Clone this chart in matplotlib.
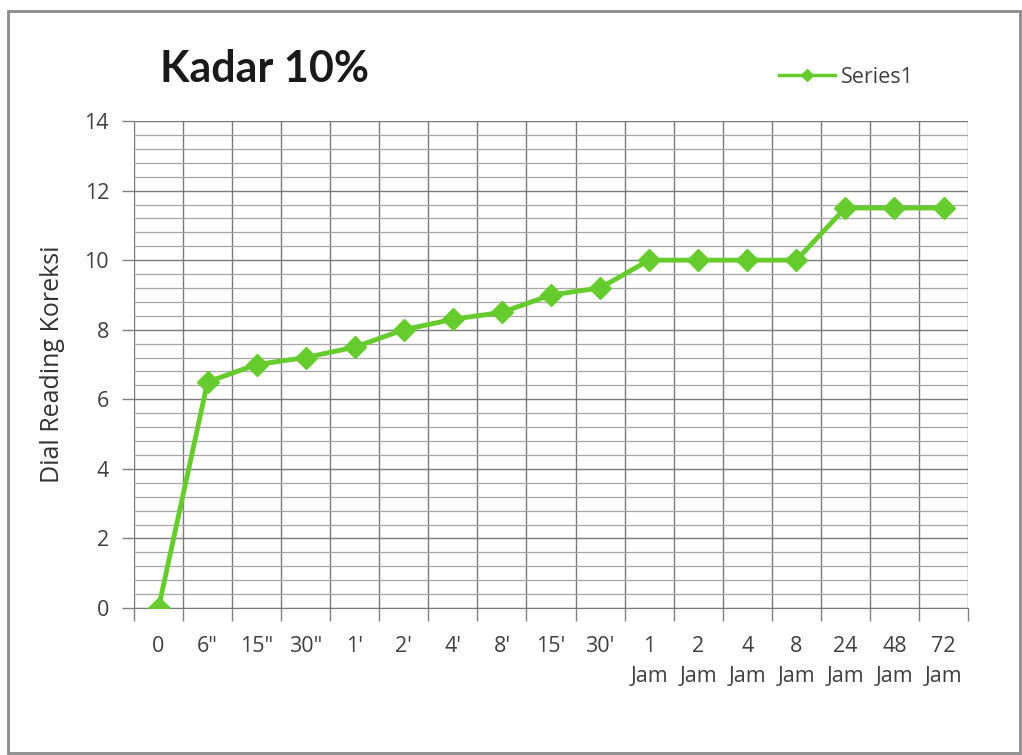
import numpy as np
import matplotlib.pyplot as plt
from matplotlib.patches import Rectangle

plt.rcParams['font.family'] = ['Open Sans', 'DejaVu Sans']

# waktu pembacaan dan dial reading terkoreksi
waktu = ['0', '6"', "15\"", '30"', "1'", "2'", "4'", "8'", "15'", "30'",
         '1\nJam', '2\nJam', '4\nJam', '8\nJam', '24\nJam', '48\nJam', '72\nJam']
dial = [0, 6.5, 7.0, 7.2, 7.5, 8.0, 8.3, 8.5, 9.0, 9.2,
        10.0, 10.0, 10.0, 10.0, 11.5, 11.5, 11.5]

hijau = '#66cc2e'
abu = '#404040'

fig = plt.figure(figsize=(10.22, 7.55), dpi=100)
fig.patch.set_facecolor('white')

# bingkai chart
fig.patches.append(Rectangle((0.008, 0.003), 0.99, 0.983, transform=fig.transFigure,
                             fill=False, edgecolor='#8c8c8c', linewidth=2))

ax = fig.add_axes([0.1311, 0.1947, 0.8161, 0.645])
x = np.arange(len(waktu))

ax.plot(x, dial, color=hijau, linewidth=3.5, marker='D', markersize=11,
        markerfacecolor=hijau, markeredgecolor=hijau, label='Series1', zorder=5)

ax.set_xlim(-0.5, len(waktu) - 0.5)
ax.set_ylim(0, 14)

# grid mayor dan minor
ax.set_yticks(np.arange(0, 15, 2))
ax.set_yticks(np.arange(0, 14.01, 0.4), minor=True)
ax.set_xticks(x)
ax.set_xticks(np.arange(-0.5, len(waktu), 1), minor=True)
ax.set_xticklabels(waktu, fontsize=15.5, color=abu, linespacing=1.55)
ax.tick_params(axis='y', labelsize=15.5, labelcolor=abu, length=9, width=1,
               color='#808080', pad=9)
ax.tick_params(axis='y', which='minor', length=0)
ax.tick_params(axis='x', which='major', length=0, pad=20)
ax.tick_params(axis='x', which='minor', length=9, width=1, color='#808080')

ax.grid(which='major', axis='y', color='#7a7a7a', linewidth=1)
ax.grid(which='minor', axis='y', color='#a6a6a6', linewidth=0.9)
ax.grid(which='minor', axis='x', color='#7a7a7a', linewidth=1)
ax.set_axisbelow(True)

for s in ['top', 'right', 'left']:
    ax.spines[s].set_visible(False)
ax.spines['bottom'].set_color('#7a7a7a')
ax.set_facecolor('white')

ax.set_ylabel('Dial Reading Koreksi', fontsize=18, color='#333333', labelpad=14)

fig.text(0.259, 0.909, 'Kadar 10%', fontsize=31, fontweight='bold',
         color='#1a1a1a', ha='center', va='center', family=['Lato', 'DejaVu Sans'])

leg = ax.legend(loc='center left', bbox_to_anchor=(0.75, 1.09), frameon=False,
                fontsize=15.5, handlelength=2.6, handletextpad=0.3, markerscale=0.6)
leg.get_lines()[0].set_linewidth(2.5)
for t in leg.get_texts():
    t.set_color(abu)

fig.savefig('out.png', dpi=100)
